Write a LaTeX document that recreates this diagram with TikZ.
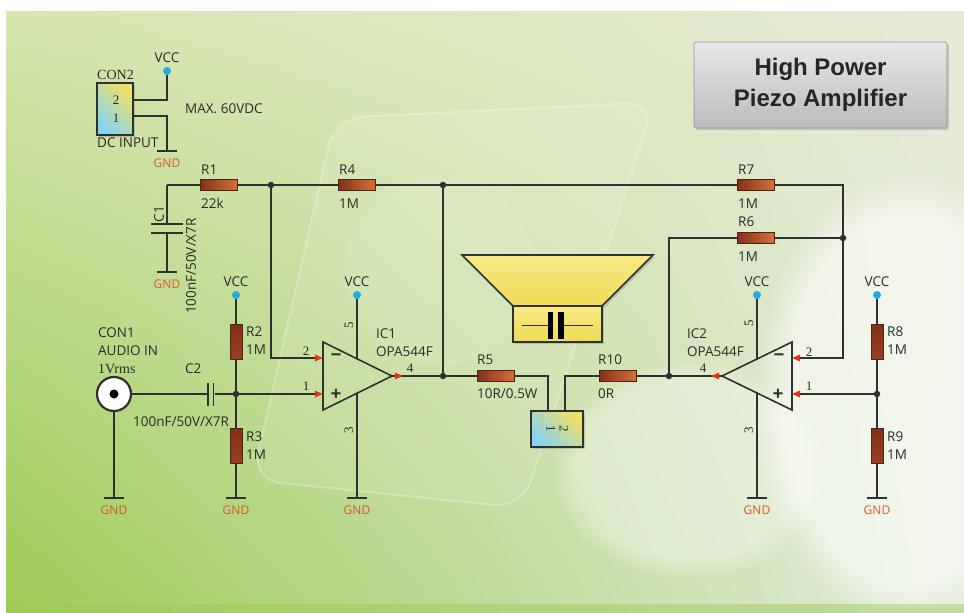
\documentclass[tikz,border=0pt]{standalone}
\usepackage{fontspec}
\setmainfont{Open Sans}
\newfontfamily\headfont{Liberation Sans}
\newfontfamily\pinfont{Liberation Serif}
\usetikzlibrary{arrows.meta,shadows,fadings,shadings}

\definecolor{wirec}{HTML}{303030}
\definecolor{txtc}{HTML}{2A2A2A}
\definecolor{vccc}{HTML}{26A9E0}
\definecolor{gndc}{HTML}{D9562C}
\definecolor{resdk}{HTML}{84301A}
\definecolor{reslt}{HTML}{D9703A}
\definecolor{resbd}{HTML}{4A2416}
\definecolor{arrc}{HTML}{E2321F}
\definecolor{spky}{HTML}{EFDB55}
\definecolor{spkyl}{HTML}{F7E985}
\definecolor{conb}{HTML}{86D3F2}
\definecolor{cony}{HTML}{EFE069}
\definecolor{bgul}{HTML}{D6E6AE}
\definecolor{bgur}{HTML}{E6EBD6}
\definecolor{bgll}{HTML}{9BCB55}
\definecolor{bglr}{HTML}{E3EBDC}
\definecolor{silverhi}{HTML}{E6E7E8}
\definecolor{silverlo}{HTML}{B9BCBE}

% supply and ground symbols: name, x, y
\newcommand\vccsym[3]{%
  \node[vccdot] (#1) at (#2,#3) {};
  \node[lbl, anchor=base] (#1t) at (#2,#3-8.5) {VCC};}
\newcommand\gndsym[3]{%
  \node[gbar] (#1) at (#2,#3) {};
  \node[gndlbl, anchor=base] (#1t) at (#2,#3+16) {GND};}

\begin{document}
\begin{tikzpicture}[x=1pt,y=-1pt,
  wire/.style={draw=wirec, line width=1.6pt},
  res/.style={rectangle, draw=resbd, line width=0.9pt, inner sep=0pt,
    minimum width=37pt, minimum height=11pt, left color=resdk, right color=reslt},
  resv/.style={rectangle, draw=resbd, line width=0.9pt, inner sep=0pt,
    minimum width=12pt, minimum height=35pt, top color=resdk, bottom color=resdk!75!reslt},
  junc/.style={circle, fill=wirec, minimum size=6.5pt, inner sep=0pt},
  vccdot/.style={circle, fill=vccc, minimum size=8pt, inner sep=0pt},
  gbar/.style={rectangle, fill=wirec, minimum width=20pt, minimum height=1.8pt, inner sep=0pt},
  hplate/.style={rectangle, fill=wirec, minimum width=32pt, minimum height=1.8pt, inner sep=0pt},
  vplate/.style={rectangle, fill=wirec, minimum width=1.8pt, minimum height=23pt, inner sep=0pt},
  bigplate/.style={rectangle, fill=black, minimum width=5.5pt, minimum height=27pt, inner sep=0pt},
  lbl/.style={font=\fontsize{13.5}{14}\selectfont, text=txtc, inner sep=0pt},
  serlbl/.style={font=\pinfont\fontsize{14}{15}\selectfont, text=txtc, inner sep=0pt},
  pinlbl/.style={font=\pinfont\fontsize{13}{14}\selectfont, text=txtc, inner sep=0pt},
  gndlbl/.style={font=\fontsize{12}{13}\selectfont, text=gndc, inner sep=0pt},
  sign/.style={font=\bfseries\fontsize{19}{19}\selectfont, text=wirec, inner sep=0pt},
  inarrow/.style={wire, -{Triangle[length=8pt,width=6.5pt,color=arrc]}},
  outarrow/.style={wire, -{Triangle[length=8pt,width=6.5pt,color=arrc]}},
  conbox/.style={rectangle, draw=wirec, line width=1.6pt, inner sep=0pt,
    shading=axis, top color=cony, bottom color=conb, shading angle=-45,
    drop shadow={opacity=0.35, shadow xshift=2pt, shadow yshift=-2pt}},
  spkbody/.style={draw=wirec, line width=1.6pt, line join=miter, top color=spkyl, bottom color=spky,
    drop shadow={opacity=0.35, shadow xshift=2pt, shadow yshift=-2pt}},
  opamp/.style={wire, line join=miter},
]
\useasboundingbox (0,0) rectangle (964,613);

% ---------- backdrop ----------
\fill[white] (0,0) rectangle (964,613);
\shade[upper left=bgul, upper right=bgur, lower left=bgll, lower right=bglr] (6,11) rectangle (964,613);
\fill[white, opacity=0.55, path fading=circle with fuzzy edge 20 percent]
  (905,400) ellipse (150 and 230);
\fill[white, opacity=0.35, path fading=circle with fuzzy edge 20 percent]
  (690,470) ellipse (140 and 110);
\fill[bgll, opacity=0.45] (6,604) rectangle (964,613);
% faint outline of a buzzer housing
\fill[white, opacity=0.1, rounded corners=28pt]
  (335,118) -- (655,102) -- (522,508) -- (252,480) -- cycle;
\draw[white, opacity=0.25, line width=2pt, rounded corners=28pt]
  (335,118) -- (655,102) -- (522,508) -- (252,480) -- cycle;
\fill[white, opacity=0.08] (440,270) circle (95);

% ---------- title plate ----------
\node[rectangle, rounded corners=2pt, draw=silverlo!80!black, line width=0.6pt,
  top color=silverhi, bottom color=silverlo, minimum width=253pt, minimum height=86pt,
  drop shadow={opacity=0.3, shadow xshift=2pt, shadow yshift=-2pt},
  align=center, font=\headfont\bfseries\fontsize{24}{31}\selectfont, text=black!85]
  (title) at (820.5,85) {High Power\\Piezo Amplifier};

% ---------- DC input ----------
\node[conbox, minimum width=36pt, minimum height=52pt] (CON2) at (115,109) {};
\node[pinlbl] (CON2p2) at (116,100) {2};
\node[pinlbl] (CON2p1) at (116,118) {1};
\node[serlbl, anchor=base west] (CON2n) at (97,79) {CON2};
\node[lbl, anchor=base west] (CON2d) at (97,147) {DC INPUT};
\coordinate (c2a) at (133,100);
\coordinate (c2b) at (133,116);
\vccsym{vcc0}{167}{71}
\gndsym{g0}{167}{151}
\draw[wire] (c2a) -| (vcc0);
\draw[wire] (c2b) -| (g0);
\node[lbl, anchor=base west] (maxv) at (185,113) {MAX. 60VDC};

% ---------- top feedback rail ----------
\coordinate (c1top) at (167,185);
\node[res] (R1) at (219,185) {};
\node[junc] (j1) at (271,185) {};
\node[res] (R4) at (357,185) {};
\node[junc] (j2) at (443,185) {};
\node[res] (R7) at (756,185) {};
\coordinate (r7end) at (843,185);
\node[junc] (j3) at (843,238) {};
\node[res] (R6) at (756,238) {};
\coordinate (r6end) at (669,238);
\node[junc] (j4) at (669,376) {};
\draw[wire] (c1top) -- (R1.west);
\draw[wire] (R1.east) -- (j1) -- (R4.west);
\draw[wire] (R4.east) -- (j2) -- (R7.west);
\draw[wire] (R7.east) -- (r7end) -- (j3);
\draw[wire] (j3) -- (R6.east);
\draw[wire] (R6.west) -- (r6end) -- (j4);

\node[lbl, anchor=base west] (R1n) at (201,174) {R1};
\node[lbl, anchor=base west] (R1v) at (201,208) {22k};
\node[lbl, anchor=base west] (R4n) at (339,174) {R4};
\node[lbl, anchor=base west] (R4v) at (339,208) {1M};
\node[lbl, anchor=base west] (R7n) at (738,174) {R7};
\node[lbl, anchor=base west] (R7v) at (738,208) {1M};
\node[lbl, anchor=base west] (R6n) at (738,226) {R6};
\node[lbl, anchor=base west] (R6v) at (738,261) {1M};

% C1 to ground
\node[hplate] (C1a) at (167,224) {};
\node[hplate] (C1b) at (167,233) {};
\gndsym{gC1}{167}{272}
\draw[wire] (c1top) -- (C1a);
\draw[wire] (C1b) -- (gC1);
\node[lbl, rotate=90] (C1n) at (159,214) {C1};
\node[lbl, rotate=90] (C1v) at (191,266) {100nF/50V/X7R};

% ---------- audio input ----------
\node[circle, draw=wirec, line width=2.2pt, fill=white, minimum size=34pt, inner sep=0pt] (CON1) at (114,394) {};
\node[circle, fill=black, minimum size=9pt, inner sep=0pt] (CON1c) at (114,394) {};
\node[lbl, anchor=base west] (CON1n) at (98,337) {CON1};
\node[lbl, anchor=base west] (CON1d) at (98,355) {AUDIO IN};
\node[serlbl, anchor=base west] (CON1l) at (98,373) {1Vrms};
\gndsym{gCON1}{114}{498}
\draw[wire] (CON1) -- (gCON1);

\node[vplate] (C2a) at (208,394) {};
\node[vplate] (C2b) at (213.5,394) {};
\node[junc] (j5) at (236,394) {};
\draw[wire] (CON1) -- (C2a);
\draw[wire] (C2b) -- (j5);
\node[lbl, anchor=base west] (C2n) at (185,373) {C2};
\node[lbl, anchor=base west] (C2v) at (133,426) {100nF/50V/X7R};

\vccsym{vcc2}{236}{295}
\node[resv] (R2) at (236,342) {};
\node[resv] (R3) at (236,446) {};
\gndsym{g2}{236}{498}
\draw[wire] (vcc2) -- (R2);
\draw[wire] (R2) -- (j5) -- (R3);
\draw[wire] (R3) -- (g2);
\node[lbl, anchor=base west] (R2n) at (246,336) {R2};
\node[lbl, anchor=base west] (R2v) at (246,354) {1M};
\node[lbl, anchor=base west] (R3n) at (246,441) {R3};
\node[lbl, anchor=base west] (R3v) at (246,459) {1M};

% ---------- IC1 ----------
\coordinate (ic1a) at (323,342);
\coordinate (ic1b) at (323,410);
\coordinate (ic1t) at (392,376);
\coordinate (ic1m) at (323,358);
\coordinate (ic1p) at (323,394);
\coordinate (ic1v) at (357,358.8);
\coordinate (ic1g) at (357,393.2);
\coordinate (ic1o) at (403,376);
\draw[opamp] (ic1a) -- (ic1b) -- (ic1t) -- cycle;
\vccsym{vcc3}{357}{295}
\gndsym{g3}{357}{498}
\draw[wire] (vcc3) -- (ic1v);
\draw[wire] (ic1g) -- (g3);
\draw[inarrow] (j1) |- (ic1m);
\draw[inarrow] (j5) -- (ic1p);
\node[sign] (ic1minus) at (336,358) {−};
\node[sign] (ic1plus) at (336,395) {+};
\node[pinlbl] (ic1p2) at (306,351) {2};
\node[pinlbl] (ic1p1) at (306,386) {1};
\node[pinlbl] (ic1p4) at (410,368) {4};
\node[pinlbl, rotate=90] (ic1p5) at (349,325) {5};
\node[pinlbl, rotate=90] (ic1p3) at (349,430) {3};
\node[lbl, anchor=base west] (ic1n) at (376,338) {IC1};
\node[lbl, anchor=base west] (ic1type) at (376,356) {OPA544F};

\node[junc] (j2b) at (443,376) {};
\node[res] (R5) at (496,376) {};
\draw[wire] (ic1t) -- (j2b);
\draw[wire] (j2) -- (j2b);
\draw[wire] (j2b) -- (R5.west);
\draw[outarrow] (ic1t) -- (ic1o);
\node[lbl, anchor=base west] (R5n) at (477,364) {R5};
\node[lbl, anchor=base west] (R5v) at (477,398) {10R/0.5W};

% ---------- piezo element and its connector ----------
\path[spkbody] (462,255) -- (653,255) -- (602,306) -- (513,306) -- cycle;
\node[rectangle, spkbody, minimum width=89pt, minimum height=36pt, inner sep=0pt] (SPK) at (557.5,324) {};
\node[bigplate] (SP1) at (550.5,325.5) {};
\node[bigplate] (SP2) at (561,325.5) {};
\coordinate (spl) at (522,325.5);
\coordinate (spr) at (593,325.5);
\draw[wire] (spl) -- (SP1);
\draw[wire] (SP2) -- (spr);

\node[conbox, minimum width=52pt, minimum height=36pt] (PZ) at (557,429) {};
\node[pinlbl, rotate=-90] (PZp1) at (551,429) {1};
\node[pinlbl, rotate=-90] (PZp2) at (564,429) {2};
\coordinate (pz1) at (548,411);
\coordinate (pz2) at (565,411);
\node[res] (R10) at (618,376) {};
\draw[wire] (R5.east) -| (pz1);
\draw[wire] (pz2) |- (R10.west);
\node[lbl, anchor=base west] (R10n) at (598,364) {R10};
\node[lbl, anchor=base west] (R10v) at (598,398) {0R};

% ---------- IC2 ----------
\coordinate (ic2a) at (792,342);
\coordinate (ic2b) at (792,410);
\coordinate (ic2t) at (722,376);
\coordinate (ic2m) at (792,358);
\coordinate (ic2p) at (792,394);
\coordinate (ic2v) at (757,359);
\coordinate (ic2g) at (757,393);
\coordinate (ic2o) at (711,376);
\draw[opamp] (ic2a) -- (ic2b) -- (ic2t) -- cycle;
\vccsym{vcc4}{757}{295}
\gndsym{g4}{757}{498}
\draw[wire] (vcc4) -- (ic2v);
\draw[wire] (ic2g) -- (g4);
\draw[wire] (R10.east) -- (j4) -- (ic2t);
\draw[outarrow] (ic2t) -- (ic2o);
\draw[inarrow] (j3) |- (ic2m);
\node[sign] (ic2minus) at (779,358) {−};
\node[sign] (ic2plus) at (778,395) {+};
\node[pinlbl] (ic2p2) at (809,352) {2};
\node[pinlbl] (ic2p1) at (809,386) {1};
\node[pinlbl] (ic2p4) at (703,368) {4};
\node[pinlbl, rotate=90] (ic2p5) at (749,323) {5};
\node[pinlbl, rotate=90] (ic2p3) at (749,430) {3};
\node[lbl, anchor=base west] (ic2n) at (687,338) {IC2};
\node[lbl, anchor=base west] (ic2type) at (687,356) {OPA544F};

% bias divider for IC2
\vccsym{vcc5}{877}{295}
\node[resv] (R8) at (877,342) {};
\node[junc] (j6) at (877,394) {};
\node[resv] (R9) at (877,446) {};
\gndsym{g5}{877}{498}
\draw[wire] (vcc5) -- (R8);
\draw[wire] (R8) -- (j6) -- (R9);
\draw[wire] (R9) -- (g5);
\draw[inarrow] (j6) -- (ic2p);
\node[lbl, anchor=base west] (R8n) at (887,336) {R8};
\node[lbl, anchor=base west] (R8v) at (887,354) {1M};
\node[lbl, anchor=base west] (R9n) at (887,441) {R9};
\node[lbl, anchor=base west] (R9v) at (887,459) {1M};
\end{tikzpicture}
\end{document}
